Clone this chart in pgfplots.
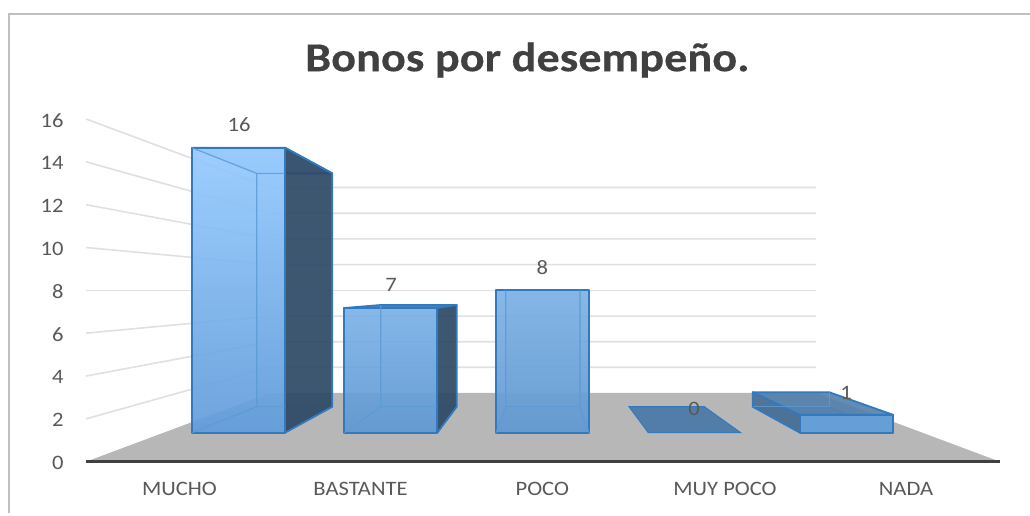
\documentclass[border=0pt]{standalone}
\usepackage{pgfplots}
\pgfplotsset{compat=1.18}
\usepackage{fontspec}
\setmainfont{Carlito}
\newfontfamily\lab[FakeStretch=1.1]{Carlito}
\newfontfamily\ttl[FakeStretch=1.13,BoldFeatures={FakeBold=0.35}]{Carlito}
\definecolor{txt}{HTML}{595959}
\definecolor{ttlc}{HTML}{404040}
\definecolor{gridc}{HTML}{E0E0E0}
\definecolor{floorc}{HTML}{B7B7B7}
\definecolor{edge}{HTML}{3279BD}
\definecolor{inner}{HTML}{5B9BD5}
\definecolor{side}{HTML}{2F4A66}
\definecolor{frame}{HTML}{BFBFBF}
\pgfplotsset{
  base/.style={scale only axis,width=1030pt,height=515pt,xmin=0,xmax=1030,no markers},
  face/.style={line join=round,line width=1.8pt,draw=edge},
  thin face/.style={line join=round,line width=1.1pt,draw=inner,draw opacity=.8},
  wall/.style={draw=gridc,line width=1.6pt},
}
\begin{document}
\begin{tikzpicture}
\useasboundingbox (0,0) rectangle (1030pt,515pt);
% wall and floor axis: y in the units of the value scale at the left end
\begin{axis}[base,ymin=-2.488,ymax=21.555,
  axis line style={draw=none},tick style={draw=none},
  /pgf/number format/assume math mode=true,
  ytick={0,2,...,16},xtick={179.5,360.5,542.3,725,906},
  xticklabels={MUCHO,BASTANTE,POCO,MUY POCO,NADA},
  tick label style={font=\lab\fontsize{20.5}{22}\selectfont,text=txt},
  xticklabel style={anchor=base,yshift=20pt},
  yticklabel style={anchor=east,xshift=67pt,yshift=-1.2pt},
  title={\ttl\fontsize{41}{44}\selectfont\bfseries Bonos por desempeño.},
  title style={at={(0.512,0.850)},anchor=base,text=ttlc,inner sep=0pt},
]
\addplot[draw=frame,line width=1.7pt] coordinates {(9.3,-2.39)(9.3,20.9)(1030,20.9)};
\addplot[fill=floorc,draw=none] coordinates {(86,0)(270,3.21)(816,3.21)(1000,0)} -- cycle;
\addplot[wall] coordinates {(86,2)(270,4.41)(816,4.41)};
\addplot[wall] coordinates {(86,4)(270,5.60)(816,5.60)};
\addplot[wall] coordinates {(86,6)(270,6.80)(816,6.80)};
\addplot[wall] coordinates {(86,8)(270,8.00)(816,8.00)};
\addplot[wall] coordinates {(86,10)(270,9.20)(816,9.20)};
\addplot[wall] coordinates {(86,12)(270,10.40)(816,10.40)};
\addplot[wall] coordinates {(86,14)(270,11.60)(816,11.60)};
\addplot[wall] coordinates {(86,16)(270,12.80)(816,12.80)};
\addplot[draw=ttlc,line width=2.6pt] coordinates {(86,0)(1000,0)};
\end{axis}
% bar axis: y in the values of the front faces
\begin{axis}[base,ymin=-4.621,ymax=24.295,hide axis]
% MUCHO = 16
\addplot[thin face,fill=inner,fill opacity=.15] coordinates {(256.7,1.46)(332.3,1.46)(332.3,14.56)(256.7,14.56)} -- cycle;
\addplot[thin face,fill=inner,fill opacity=.25] coordinates {(192,0)(285,0)(332.3,1.46)(256.7,1.46)} -- cycle;
\addplot[face,fill=white!40!inner,fill opacity=.6] coordinates {(192,16)(285,16)(332.3,14.56)(256.7,14.56)} -- cycle;
\addplot[face,fill=side,fill opacity=.92] coordinates {(285,0)(332.3,1.46)(332.3,14.56)(285,16)} -- cycle;
\addplot[face,top color={rgb,255:red,150;green,202;blue,255},bottom color={rgb,255:red,98;green,157;blue,218},fill opacity=.93] coordinates {(192,0)(285,0)(285,16)(192,16)} -- cycle;
\addplot[thin face] coordinates {(192,16)(256.7,14.56)(256.7,1.46)(192,0)};
\addplot[thin face] coordinates {(256.7,14.56)(285,14.56)};
\addplot[thin face] coordinates {(256.7,1.46)(285,1.46)};
% BASTANTE = 7
\addplot[thin face,fill=inner,fill opacity=.15] coordinates {(380.7,1.46)(456.7,1.46)(456.7,7.17)(380.7,7.17)} -- cycle;
\addplot[thin face,fill=inner,fill opacity=.25] coordinates {(344,0)(437.3,0)(456.7,1.46)(380.7,1.46)} -- cycle;
\addplot[face,fill=edge,fill opacity=.9] coordinates {(344,7)(437.3,7)(456.7,7.17)(380.7,7.17)} -- cycle;
\addplot[face,fill=side,fill opacity=.92] coordinates {(437.3,0)(456.7,1.46)(456.7,7.17)(437.3,7)} -- cycle;
\addplot[face,top color={rgb,255:red,125;green,178;blue,232},bottom color={rgb,255:red,96;green,153;blue,210},fill opacity=.93] coordinates {(344,0)(437.3,0)(437.3,7)(344,7)} -- cycle;
\addplot[thin face] coordinates {(344,0)(380.7,1.46)(380.7,7.17)};
\addplot[thin face] coordinates {(380.7,1.46)(437.3,1.46)};
% POCO = 8
\addplot[thin face,fill=inner,fill opacity=.15] coordinates {(505.7,1.46)(580,1.46)(580,8)(505.7,8)} -- cycle;
\addplot[thin face,fill=inner,fill opacity=.25] coordinates {(496,0)(589,0)(580,1.46)(505.7,1.46)} -- cycle;
\addplot[face,top color={rgb,255:red,126;green,178;blue,230},bottom color={rgb,255:red,98;green,153;blue,208},fill opacity=.93] coordinates {(496,0)(589,0)(589,8)(496,8)} -- cycle;
\addplot[thin face] coordinates {(505.7,8)(505.7,1.46)(496,0)};
\addplot[thin face] coordinates {(580,8)(580,1.46)(589,0)};
\addplot[thin face] coordinates {(505.7,1.46)(580,1.46)};
% MUY POCO = 0
\addplot[draw=edge,line width=1pt,fill={rgb,255:red,82;green,125;blue,168}] coordinates {(648.3,0)(740.7,0)(704.3,1.46)(629,1.46)} -- cycle;
% NADA = 1
\addplot[thin face,fill=edge,fill opacity=.45] coordinates {(752.7,1.46)(829.3,1.46)(893.3,0)(800,0)} -- cycle;
\addplot[face,fill={rgb,255:red,72;green,110;blue,148},fill opacity=.9] coordinates {(752.7,1.46)(800,0)(800,1)(752.7,2.27)} -- cycle;
\addplot[face,fill={rgb,255:red,82;green,128;blue,172},fill opacity=.9] coordinates {(752.7,2.27)(829.3,2.27)(893.3,1)(800,1)} -- cycle;
\addplot[thin face] coordinates {(829.3,2.27)(829.3,1.46)};
\addplot[thin face] coordinates {(752.7,1.46)(829.3,1.46)};
\addplot[face,fill={rgb,255:red,102;green,158;blue,214}] coordinates {(800,0)(893.3,0)(893.3,1)(800,1)} -- cycle;
% data labels
\addplot[only marks,mark=none,point meta=explicit symbolic,
  nodes near coords,
  every node near coord/.style={anchor=center,text=txt,inner sep=0pt,font=\lab\fontsize{20.5}{22}\selectfont}]
  table[meta=v,x=x,y=y] {
x y v
239 17.28 16
391 8.28 7
542.3 9.29 8
694 1.31 0
846 2.26 1
};
\end{axis}
\end{tikzpicture}
\end{document}
